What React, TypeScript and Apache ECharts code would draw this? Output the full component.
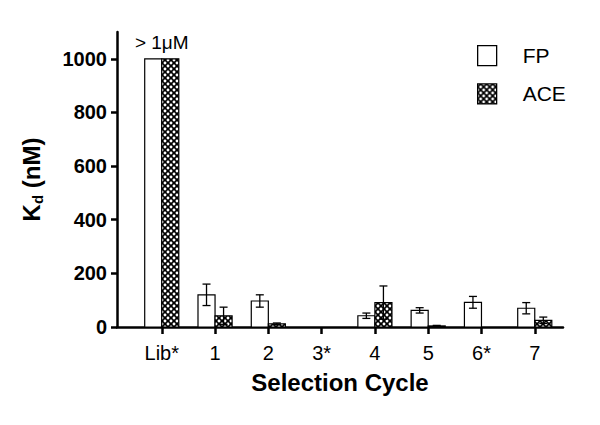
import React, { useEffect, useRef } from "react";
import * as echarts from "echarts";

const categories = ["Lib*", "1", "2", "3*", "4", "5", "6*", "7"];
const fpValues: (number | null)[] = [1000, 120, 97, null, 42, 62, 92, 70];
const fpErrors: number[] = [0, 40, 23, 0, 10, 10, 22, 21];
const aceValues: (number | null)[] = [1000, 42, 12, null, 91, 4, null, 25];
const aceErrors: number[] = [0, 32, 3, 0, 62, 2, 0, 12];
const annotations = [{ x: 0, y: 1000, text: "> 1\u03bcM" }];
const yTicks = [0, 200, 400, 600, 800, 1000];

const FONT = "'Liberation Sans', Arial, Helvetica, sans-serif";

function makePattern() {
  const c = document.createElement("canvas");
  c.width = 6;
  c.height = 6;
  const ctx = c.getContext("2d")!;
  ctx.fillStyle = "#000";
  ctx.fillRect(0, 0, 6, 6);
  ctx.fillStyle = "#fff";
  const dots = [
    [3, 3],
    [0, 0],
    [6, 0],
    [0, 6],
    [6, 6],
  ];
  for (const [x, y] of dots) {
    ctx.beginPath();
    ctx.arc(x, y, 1.45, 0, Math.PI * 2);
    ctx.fill();
  }
  return { image: c, repeat: "repeat", imageWidth: 6, imageHeight: 6 } as any;
}

export default function App() {
  const ref = useRef<HTMLDivElement>(null);
  useEffect(() => {
    if (!ref.current) return;
    const chart = echarts.init(ref.current, null, { renderer: "svg" });
    const pattern = makePattern();
    const BAR_W = 0.32;

    const makeBarSeries = (name: string, values: (number | null)[], errs: number[], side: number, fill: any) => ({
      type: "custom",
      name,
      data: values.map((v, i) => [i, v == null ? 0 : v, errs[i], v == null ? 0 : 1]),
      itemStyle: { color: fill, borderColor: "#000", borderWidth: 1.2 },
      renderItem: (params: any, api: any) => {
        if (!api.value(3)) return null;
        const x = api.value(0);
        const v = api.value(1);
        const e = api.value(2);
        const base = api.coord([x, 0]);
        const top = api.coord([x, v]);
        const bw = api.size([BAR_W, 0])[0];
        const left = side < 0 ? base[0] - bw : base[0];
        const cx = left + bw / 2;
        const children: any[] = [
          {
            type: "rect",
            shape: { x: left, y: top[1], width: bw, height: base[1] - top[1] },
            style: { fill, stroke: "#000", lineWidth: 1.2 },
          },
        ];
        if (e > 0) {
          const hi = api.coord([x, v + e])[1];
          const lo = api.coord([x, Math.max(0, v - e)])[1];
          const cap = 4;
          const ls = { stroke: "#000", lineWidth: 1.3 };
          children.push(
            { type: "line", shape: { x1: cx, y1: hi, x2: cx, y2: lo }, style: ls },
            { type: "line", shape: { x1: cx - cap, y1: hi, x2: cx + cap, y2: hi }, style: ls },
            { type: "line", shape: { x1: cx - cap, y1: lo, x2: cx + cap, y2: lo }, style: ls }
          );
        }
        return { type: "group", children };
      },
      z: 3,
    });

    const option: any = {
      animation: false,
      backgroundColor: "#fff",
      grid: { left: 117, right: 37, top: 32, bottom: 98 },
      legend: {
        orient: "vertical",
        left: 477,
        top: 45,
        itemWidth: 19,
        itemHeight: 20,
        itemGap: 17,
        padding: 0,
        textStyle: { fontSize: 21, fontFamily: FONT, color: "#000", padding: [0, 0, 0, 21] },
        data: [
          { name: "FP", icon: "rect", itemStyle: { color: "#fff", borderColor: "#000", borderWidth: 1.3 } },
          { name: "ACE", icon: "rect", itemStyle: { color: pattern, borderColor: "#000", borderWidth: 1.3 } },
        ],
      },
      xAxis: {
        type: "value",
        min: -0.84,
        max: 7.53,
        name: "Selection Cycle",
        nameLocation: "middle",
        nameGap: 43,
        nameTextStyle: { fontSize: 24, fontWeight: "bold", fontFamily: FONT, color: "#000" },
        axisLine: { show: true, onZero: false, lineStyle: { color: "#000", width: 2.5 } },
        axisTick: {
          show: true,
          customValues: categories.map((_, i) => i),
          length: 7,
          lineStyle: { color: "#000", width: 2.5 },
        },
        axisLabel: {
          customValues: categories.map((_, i) => i),
          formatter: (v: number) => categories[Math.round(v)] ?? "",
          margin: 16,
          fontSize: 20,
          fontFamily: FONT,
          color: "#000",
        },
        splitLine: { show: false },
      },
      yAxis: {
        type: "value",
        min: 0,
        max: 1100,
        name: "{a|K}{s|d}{a| (nM)}",
        nameLocation: "middle",
        nameGap: 72,
        nameTextStyle: {
          rich: {
            a: { fontSize: 24, fontWeight: "bold", fontFamily: FONT, color: "#000", lineHeight: 28, verticalAlign: "middle" },
            s: { fontSize: 15, fontWeight: "bold", fontFamily: FONT, color: "#000", lineHeight: 15, padding: [14, 0, 0, 0], verticalAlign: "bottom" },
          },
        },
        axisLine: { show: true, onZero: false, lineStyle: { color: "#000", width: 2.5 } },
        axisTick: { show: true, customValues: yTicks, length: 6, lineStyle: { color: "#000", width: 2.5 } },
        axisLabel: {
          customValues: yTicks,
          formatter: (v: number) => String(v),
          margin: 10,
          fontSize: 20,
          fontWeight: "bold",
          fontFamily: FONT,
          color: "#000",
        },
        splitLine: { show: false },
      },
      series: [
        makeBarSeries("FP", fpValues, fpErrors, -1, "#fff"),
        makeBarSeries("ACE", aceValues, aceErrors, 1, pattern),
        {
          type: "custom",
          name: "annot",
          data: annotations.map((a) => [a.x, a.y]),
          renderItem: (params: any, api: any) => {
            const p = api.coord([api.value(0), api.value(1)]);
            return {
              type: "text",
              x: p[0],
              y: p[1] - 7,
              style: {
                text: annotations[params.dataIndex].text,
                fontSize: 19,
                fontFamily: FONT,
                fill: "#000",
                align: "center",
                verticalAlign: "bottom",
              },
            };
          },
          z: 4,
        },
      ],
    };
    chart.setOption(option);
    return () => chart.dispose();
  }, []);
  return <div ref={ref} style={{ position: "fixed", left: 0, top: 0, width: 600, height: 425 }} />;
}
